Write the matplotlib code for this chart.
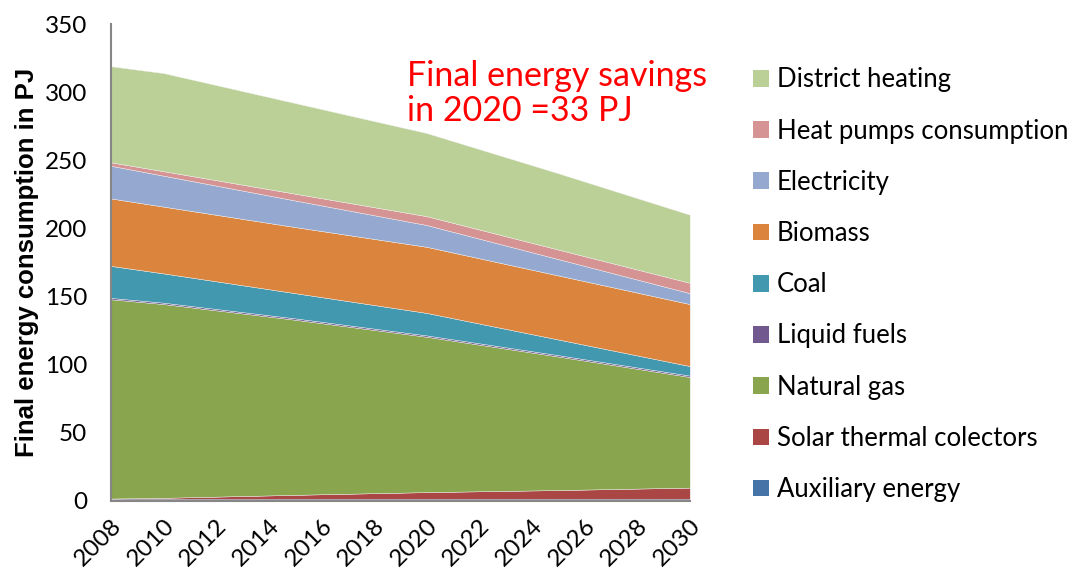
import matplotlib
matplotlib.use("Agg")
import matplotlib.pyplot as plt
from matplotlib.patches import Patch

# final energy consumption by carrier [PJ]
years = [2008, 2010, 2015, 2020, 2025, 2030]
auxiliary = [1.5, 1.5, 1.5, 1.5, 1.5, 1.5]
solar = [0.3, 0.8, 3.0, 5.0, 6.5, 8.3]
natural_gas = [146.2, 142.2, 128.5, 114.0, 98.0, 81.2]
liquid = [1.0, 1.0, 1.0, 1.0, 1.0, 1.0]
coal = [23.5, 21.5, 18.5, 16.5, 11.5, 7.0]
biomass = [49.5, 49.0, 48.5, 48.5, 47.0, 45.5]
electricity = [24.0, 22.7, 19.5, 16.0, 12.0, 8.0]
heat_pumps = [2.5, 3.3, 5.0, 6.5, 7.0, 7.6]
district = [70.5, 72.0, 66.5, 61.0, 56.0, 50.0]

labels = ["Auxiliary energy", "Solar thermal colectors", "Natural gas",
          "Liquid fuels", "Coal", "Biomass", "Electricity",
          "Heat pumps consumption", "District heating"]
series = [auxiliary, solar, natural_gas, liquid, coal, biomass,
          electricity, heat_pumps, district]
colors = ["#4572A7", "#AA4643", "#89A54E", "#71588F", "#4198AF",
          "#DB843D", "#95A9D0", "#D59493", "#BBD097"]

xticks = list(range(2008, 2031, 2))

plt.rcParams["font.family"] = ["Lato", "DejaVu Sans"]

fig = plt.figure(figsize=(10.76, 5.73), dpi=100)
ax = fig.add_axes([0.103, 0.1257, 0.538, 0.8324])

ax.stackplot(years, *series, colors=colors, labels=labels,
             edgecolor="#f2f2f2", linewidth=0.3)

ax.set_xlim(2008, 2030)
ax.set_ylim(0, 350)
ax.set_yticks(range(0, 351, 50))
ax.set_xticks(xticks)
ax.set_xticklabels([str(y) for y in xticks], rotation=45, ha="right",
                   rotation_mode="anchor")
ax.tick_params(axis="both", length=0, labelsize=17.5)
ax.tick_params(axis="y", pad=17)
ax.tick_params(axis="x", pad=10)

for s in ("top", "right"):
    ax.spines[s].set_visible(False)
for s in ("left", "bottom"):
    ax.spines[s].set_color("#868686")
    ax.spines[s].set_linewidth(1.5)

ax.set_ylabel("Final energy consumption in PJ", fontsize=18.5,
              fontweight="bold", family="Liberation Sans", labelpad=4)

fig.text(0.378, 0.895, "Final energy savings\nin 2020 =33 PJ", color="red",
         fontsize=24.5, va="top", ha="left", linespacing=1.1)

handles = [Patch(facecolor=c, edgecolor="none") for c in colors][::-1]
fig.legend(handles, labels[::-1], loc="center left",
           bbox_to_anchor=(0.700, 0.503), frameon=False, fontsize=18.5,
           handlelength=0.62, handleheight=0.62, handletextpad=0.3,
           labelspacing=1.02, borderpad=0, borderaxespad=0)

fig.savefig("out.png", dpi=100)
